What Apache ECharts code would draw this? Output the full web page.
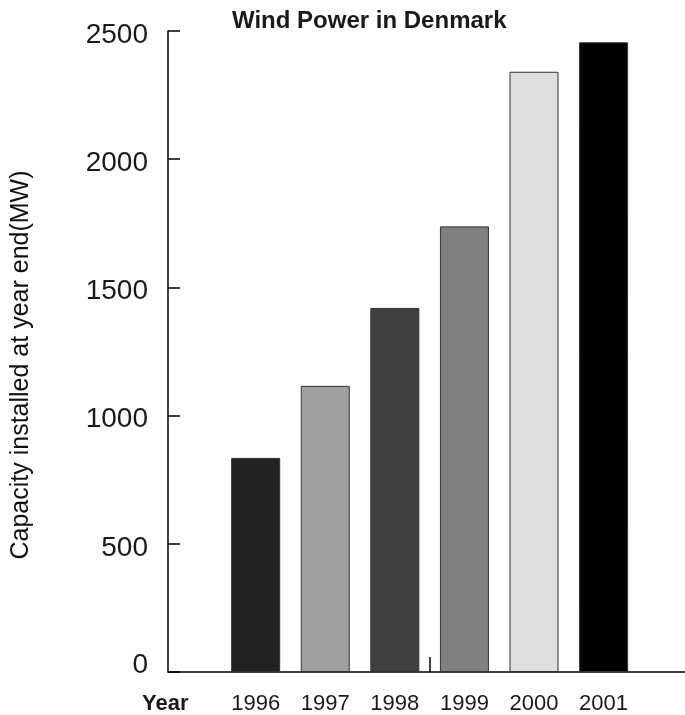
<!DOCTYPE html>
<html>
<head>
<meta charset="utf-8">
<script src="https://cdn.jsdelivr.net/npm/echarts@6/dist/echarts.min.js"></script>
<style>
html,body{margin:0;padding:0;background:#fff;}
#chart{width:685px;height:715px;}
</style>
</head>
<body>
<div id="chart"></div>
<script>
var years = [1996, 1997, 1998, 1999, 2000, 2001];
var capacity = [835, 1116, 1420, 1738, 2341, 2456];
var barColors = ['#222222', '#a0a0a0', '#404040', '#808080', '#dedede', '#000000'];

var FONT = '"Liberation Sans", Arial, Helvetica, sans-serif';
var chart = echarts.init(document.getElementById('chart'));

var seriesData = years.map(function (y, i) {
  return {
    value: [y, capacity[i]],
    itemStyle: { color: barColors[i] }
  };
});

chart.setOption({
  animation: false,
  backgroundColor: '#ffffff',
  title: [
    {
      text: 'Wind Power in Denmark',
      left: 232,
      top: 9,
      padding: 0,
      textStyle: { fontFamily: FONT, fontSize: 24, fontWeight: 'bold', color: '#1a1a1a' }
    },
    {
      text: 'Year',
      left: 142,
      top: 693,
      padding: 0,
      textStyle: { fontFamily: FONT, fontSize: 22, fontWeight: 'bold', color: '#1a1a1a' }
    }
  ],
  grid: { left: 168, right: 0, top: 31, bottom: 39, containLabel: false },
  xAxis: {
    type: 'value',
    min: 1994.74,
    max: 2002.17,
    splitLine: { show: false },
    axisLine: { show: true, onZero: false, lineStyle: { color: '#000', width: 1.5 } },
    axisTick: { show: true, inside: true, length: 15, customValues: [1998.5], lineStyle: { color: '#000', width: 1.5 } },
    axisLabel: {
      customValues: years,
      formatter: function (v) { return String(v); },
      fontFamily: FONT, fontSize: 22, color: '#1a1a1a', margin: 21
    }
  },
  yAxis: {
    type: 'value',
    min: 0,
    max: 2500,
    interval: 500,
    splitLine: { show: false },
    axisLine: { show: true, lineStyle: { color: '#000', width: 1.5 } },
    axisTick: { show: true, inside: true, length: 12, lineStyle: { color: '#000', width: 1.5 } },
    axisLabel: {
      fontFamily: FONT, fontSize: 28, color: '#1a1a1a', margin: 20,
      formatter: function (v) { return v === 0 ? '{z|0}' : '{n|' + v + '}'; },
      rich: {
        n: { fontFamily: FONT, fontSize: 28, color: '#1a1a1a', padding: [8, 0, 0, 0] },
        z: { fontFamily: FONT, fontSize: 28, color: '#1a1a1a', padding: [0, 0, 14, 0] }
      }
    },
    name: 'Capacity installed at year end(MW)',
    nameLocation: 'middle',
    nameGap: 134,
    nameTextStyle: { fontFamily: FONT, fontSize: 25, color: '#111111', padding: [0, 27, 0, 0] }
  },
  series: [{
    type: 'bar',
    data: seriesData,
    barWidth: 49,
    itemStyle: { borderColor: '#333', borderWidth: 1 }
  }]
});
</script>
</body>
</html>
